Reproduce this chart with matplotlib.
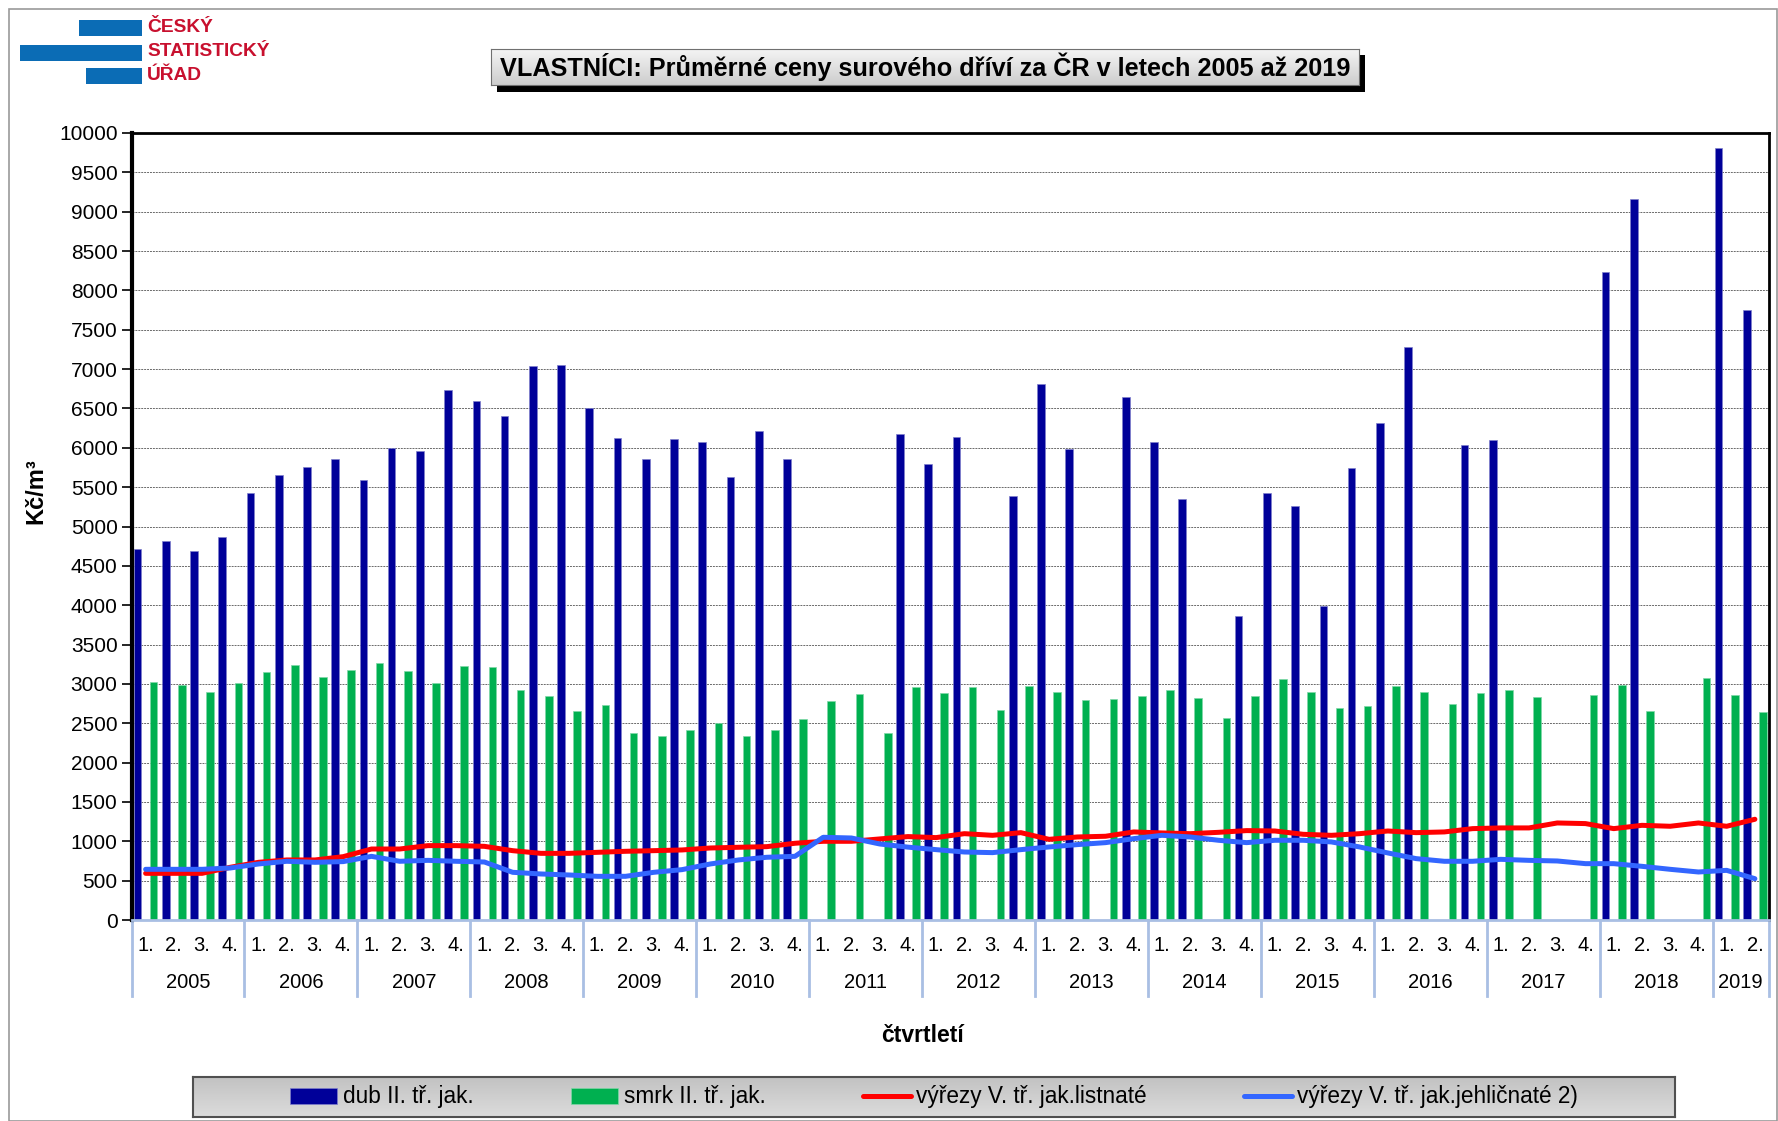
import numpy as np
import matplotlib.pyplot as plt
from matplotlib.patches import Rectangle
from matplotlib.colors import LinearSegmentedColormap
from matplotlib import transforms

plt.rcParams['font.family'] = ['Liberation Sans', 'DejaVu Sans']

W, H = 1778, 1121
def fx(p): return p / W
def fy(p): return 1 - p / H

nan = np.nan
years = ['2005', '2006', '2007', '2008', '2009', '2010', '2011', '2012',
         '2013', '2014', '2015', '2016', '2017', '2018', '2019']
quarters_in_year = [4]*14 + [2]
quarter_names = ['1.', '2.', '3.', '4.']

# dub II. tr. jak.
dub = [4720, 4820, 4690, 4870,
       5430, 5660, 5750, 5860,
       5590, 6000, 5960, 6730,
       6600, 6410, 7040, 7050,
       6510, 6130, 5860, 6110,
       6080, 5630, 6210, 5860,
       nan, nan, nan, 6170,
       5790, 6140, nan, 5390,
       6810, 5990, nan, 6650,
       6080, 5350, nan, 3860,
       5430, 5260, 3990, 5740,
       6320, 7280, nan, 6030,
       6100, nan, nan, nan,
       8230, 9160, nan, nan,
       9810, 7750]
# smrk II. tr. jak.
smrk = [3030, 2990, 2900, 3010,
        3150, 3240, 3090, 3180,
        3260, 3160, 3010, 3230,
        3210, 2920, 2840, 2660,
        2730, 2380, 2340, 2410,
        2500, 2340, 2420, 2550,
        2780, 2870, 2370, 2960,
        2890, 2960, 2670, 2970,
        2900, 2790, 2810, 2840,
        2920, 2820, 2570, 2840,
        3060, 2900, 2700, 2720,
        2970, 2900, 2740, 2890,
        2920, 2830, nan, 2860,
        2990, 2650, nan, 3080,
        2860, 2640]
# vyrezy listnate
listnate = [593, 593, 593, 670,
            733, 763, 763, 805,
            902, 902, 945, 945,
            936, 881, 847, 847,
            860, 873, 881, 890,
            915, 924, 932, 975,
            1000, 1000, 1030, 1060,
            1047, 1097, 1076, 1110,
            1025, 1055, 1064, 1119,
            1106, 1097, 1114, 1136,
            1131, 1089, 1076, 1097,
            1131, 1110, 1119, 1161,
            1170, 1170, 1233, 1225,
            1161, 1203, 1191, 1233,
            1191, 1280]
# vyrezy jehlicnate
jehlicnate = [644, 644, 644, 661,
              712, 746, 733, 742,
              809, 746, 758, 746,
              737, 606, 585, 572,
              555, 555, 606, 640,
              712, 763, 797, 809,
              1051, 1042, 966, 926,
              894, 864, 856, 894,
              928, 958, 983, 1034,
              1076, 1055, 1013, 983,
              1013, 1013, 992, 928,
              852, 780, 746, 746,
              771, 758, 750, 716,
              716, 682, 644, 610,
              631, 525]
names = ['dub II. tř. jak.', 'smrk II. tř. jak.',
         'výřezy V. tř. jak.listnaté', 'výřezy V. tř. jak.jehličnaté 2)']

fig = plt.figure(figsize=(W/100, H/100), dpi=100)

# ramecek grafu
fig.patches.append(Rectangle((fx(9), 0), 1 - fx(9) - 0.0006, fy(9), transform=fig.transFigure,
                             fill=False, edgecolor='#9a9a9a', lw=1.2))

# logo CSU
blue_logo = '#0b6cb5'
for x0, x1, y0, y1 in [(79, 142, 20, 36), (20, 142, 45, 61), (86, 142, 68, 84)]:
    fig.patches.append(Rectangle((fx(x0), fy(y1)), fx(x1) - fx(x0), (y1 - y0)/H,
                                 transform=fig.transFigure, color=blue_logo, lw=0))
for txt, yy in [('ČESKÝ', 28), ('STATISTICKÝ', 52), ('ÚŘAD', 76)]:
    fig.text(fx(147), fy(yy), txt, color='#c8102e', fontsize=13.8, fontweight='bold',
             ha='left', va='center')

# nadpis
fig.patches.append(Rectangle((fx(497), fy(92)), fx(1365) - fx(497), (92 - 55)/H,
                             transform=fig.transFigure, color='black', lw=0, zorder=1))
tax = fig.add_axes([fx(491), fy(85), fx(1359) - fx(491), (85 - 49)/H])
tax.set_zorder(3)
grad = np.linspace(0, 1, 60).reshape(-1, 1)
tax.imshow(grad, aspect='auto', extent=[0, 1, 0, 1],
           cmap=LinearSegmentedColormap.from_list('t', ['#f4f4f4', '#cdcdcd']))
tax.set_xticks([]); tax.set_yticks([])
for s in tax.spines.values():
    s.set_color('#707070')
tax.text(0.5, 0.5, 'VLASTNÍCI: Průměrné ceny surového dříví za ČR v letech 2005 až 2019',
         ha='center', va='center', fontsize=18.2, fontweight='bold', transform=tax.transAxes)

# hlavni graf
ax = fig.add_axes([fx(131.5), fy(920), fx(1769) - fx(131.5), (920 - 133)/H])
x = np.arange(len(dub))
b1 = ax.bar(x - 0.285, dub, 0.27, color='#000099', edgecolor='#7f7fcc', linewidth=0.5, zorder=2)
b2 = ax.bar(x + 0.285, smrk, 0.27, color='#00b050', edgecolor='#7fd7a7', linewidth=0.5, zorder=2)
l1, = ax.plot(x, listnate, color='#ff0000', lw=3.6, solid_joinstyle='round',
              solid_capstyle='round', zorder=3)
l2, = ax.plot(x, jehlicnate, color='#3366ff', lw=3.6, solid_joinstyle='round',
              solid_capstyle='round', zorder=4)

ax.set_xlim(-0.5, len(dub) - 0.5)
ax.set_ylim(0, 10000)
ax.set_yticks(np.arange(0, 10001, 500))
ax.yaxis.grid(True, linestyle=(0, (2, 1)), color='#6a6a6a', lw=0.7)
ax.set_axisbelow(True)
ax.set_xticks([])
ax.tick_params(axis='y', labelsize=15, length=7, width=1.2, pad=3)
ax.spines['left'].set_linewidth(3)
ax.spines['top'].set_linewidth(2)
ax.spines['right'].set_linewidth(2)
ax.spines['bottom'].set_color('#a9bfe3')
ax.spines['bottom'].set_linewidth(2)

trans = transforms.blended_transform_factory(ax.transData, ax.transAxes)
sep_col = '#a9bfe3'
start = 0
ax.plot([-0.5, -0.5], [0, -0.097], transform=trans, clip_on=False, color=sep_col, lw=2)
for yr, nq in zip(years, quarters_in_year):
    for k in range(nq):
        ax.text(start + k, -0.032, quarter_names[k], transform=trans, ha='center',
                va='center', fontsize=14.5)
    ax.text(start + (nq - 1)/2, -0.079, yr, transform=trans, ha='center', va='center',
            fontsize=14.5)
    start += nq
    ax.plot([start - 0.5, start - 0.5], [0, -0.097], transform=trans, clip_on=False,
            color=sep_col, lw=2)

fig.text(fx(36), fy(491), 'Kč/m³', rotation=90, ha='center', va='center',
         fontsize=17, fontweight='bold')
fig.text(fx(922), fy(1035), 'čtvrtletí', ha='center', va='center',
         fontsize=16.5, fontweight='bold')

# legenda
lax = fig.add_axes([fx(193), fy(1117), fx(1675) - fx(193), 40/H])
lax.set_zorder(3)
lax.imshow(grad, aspect='auto', extent=[0, 1, 0, 1],
           cmap=LinearSegmentedColormap.from_list('l', ['#c2c2c2', '#dcdcdc']))
lax.set_xticks([]); lax.set_yticks([])
for s in lax.spines.values():
    s.set_color('#505050')
    s.set_linewidth(1.5)
lax.legend([b1, b2, l1, l2], names, ncol=4, loc='center', frameon=False, fontsize=16.3,
           handlelength=2.1, handletextpad=0.25, columnspacing=4.3, borderpad=0)

fig.savefig('out.png', dpi=100)
